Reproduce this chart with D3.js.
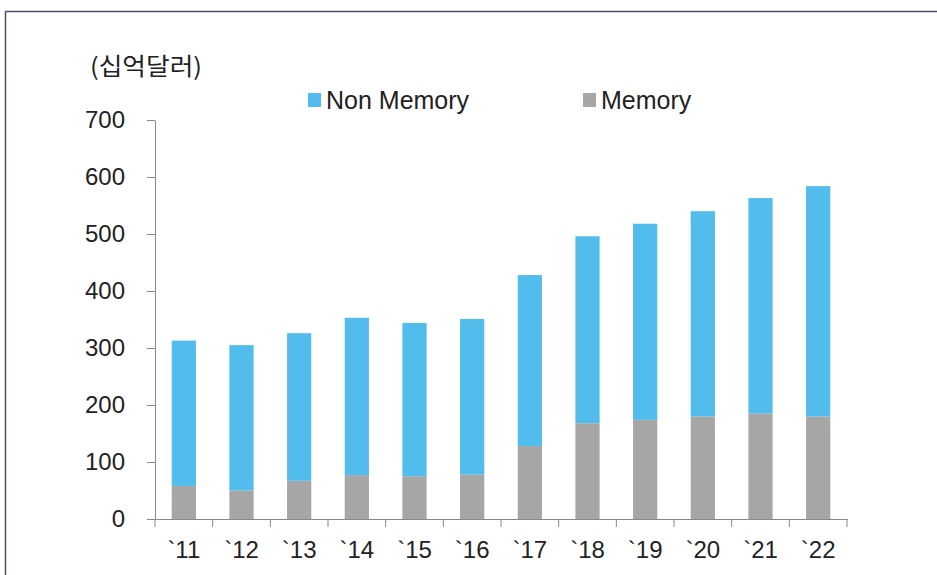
<!DOCTYPE html>
<html>
<head>
<meta charset="utf-8">
<script src="https://cdn.jsdelivr.net/npm/d3@7"></script>
<style>
  body { margin: 0; background: #fff; }
  svg { display: block; }
  .tick text { font-family: "Liberation Sans", Arial, sans-serif; fill: #222; }
</style>
</head>
<body>
<div id="chart"></div>
<script>
// chart data
var years = ["`11", "`12", "`13", "`14", "`15", "`16", "`17", "`18", "`19", "`20", "`21", "`22"];
var memory = [58, 50, 67, 77, 75, 78, 128, 168, 174, 180, 185, 180];
var nonMemory = [255, 255, 259, 276, 269, 273, 300, 328, 344, 360, 378, 404];
var yTicks = [0, 100, 200, 300, 400, 500, 600, 700];

var svgWidth = 937;
var svgHeight = 575;

var margin = { top: 120, right: 90, bottom: 56, left: 155 };
var width = svgWidth - margin.left - margin.right;
var height = svgHeight - margin.top - margin.bottom;

var colors = { memory: "#a6a6a6", nonMemory: "#52bdec" };

var svg = d3.select("#chart")
  .append("svg")
  .attr("width", svgWidth)
  .attr("height", svgHeight);

// outer frame
svg.append("rect")
  .attr("x", 5.5)
  .attr("y", 11.5)
  .attr("width", svgWidth)
  .attr("height", svgHeight)
  .attr("fill", "none")
  .attr("stroke", "#4b4f68")
  .attr("stroke-width", 1.5);

var chartGroup = svg.append("g")
  .attr("transform", `translate(${margin.left}, ${margin.top})`);

var tableData = years.map(function(y, i) {
  return { year: y, memory: memory[i], nonMemory: nonMemory[i] };
});

var stack = d3.stack().keys(["memory", "nonMemory"]);
var series = stack(tableData);

var xScale = d3.scaleBand()
  .domain(years)
  .range([0, width])
  .paddingInner(0.58)
  .paddingOuter(0.29);

var yScale = d3.scaleLinear()
  .domain([0, 700])
  .range([height, 0]);

// bars
chartGroup.selectAll("g.layer")
  .data(series)
  .enter()
  .append("g")
  .attr("class", "layer")
  .attr("fill", d => colors[d.key])
  .selectAll("rect")
  .data(d => d)
  .enter()
  .append("rect")
  .attr("x", d => xScale(d.data.year))
  .attr("y", d => yScale(d[1]))
  .attr("height", d => yScale(d[0]) - yScale(d[1]))
  .attr("width", xScale.bandwidth());

// y axis
var leftAxis = d3.axisLeft(yScale)
  .tickValues(yTicks)
  .tickSize(8)
  .tickPadding(22)
  .tickSizeOuter(0);

var yAxis = chartGroup.append("g")
  .call(leftAxis);
yAxis.selectAll("text").attr("font-size", 24);

// x axis, ticks sit between the bars
var bottomAxis = d3.axisBottom(xScale)
  .tickSize(0)
  .tickPadding(21);

var xAxis = chartGroup.append("g")
  .attr("transform", `translate(0, ${height})`)
  .call(bottomAxis);
xAxis.selectAll("text").attr("font-size", 24).attr("dy", "0.75em");

var step = xScale.step();
xAxis.selectAll("line.sep")
  .data(d3.range(years.length + 1))
  .enter()
  .append("line")
  .attr("class", "sep")
  .attr("x1", d => d * step)
  .attr("x2", d => d * step)
  .attr("y1", 0)
  .attr("y2", 8)
  .attr("stroke", "#888");

chartGroup.selectAll(".domain").attr("stroke", "#888");
chartGroup.selectAll(".tick line").attr("stroke", "#888");

// unit label
svg.append("text")
  .attr("x", 90)
  .attr("y", 75)
  .attr("font-family", "'Noto Sans CJK KR', sans-serif")
  .attr("font-size", 24)
  .attr("fill", "#222")
  .attr("textLength", 112)
  .attr("lengthAdjust", "spacingAndGlyphs")
  .text("(십억달러)");

// legend
var legendItems = [
  { label: "Non Memory", color: colors.nonMemory, x: 308 },
  { label: "Memory", color: colors.memory, x: 583 }
];

var legend = svg.append("g");
legend.selectAll("rect")
  .data(legendItems)
  .enter()
  .append("rect")
  .attr("x", d => d.x)
  .attr("y", 93)
  .attr("width", 13)
  .attr("height", 14)
  .attr("fill", d => d.color);

legend.selectAll("text")
  .data(legendItems)
  .enter()
  .append("text")
  .attr("x", d => d.x + 18)
  .attr("y", 109)
  .attr("font-family", "'Liberation Sans', Arial, sans-serif")
  .attr("font-size", 25)
  .attr("fill", "#222")
  .text(d => d.label);
</script>
</body>
</html>
